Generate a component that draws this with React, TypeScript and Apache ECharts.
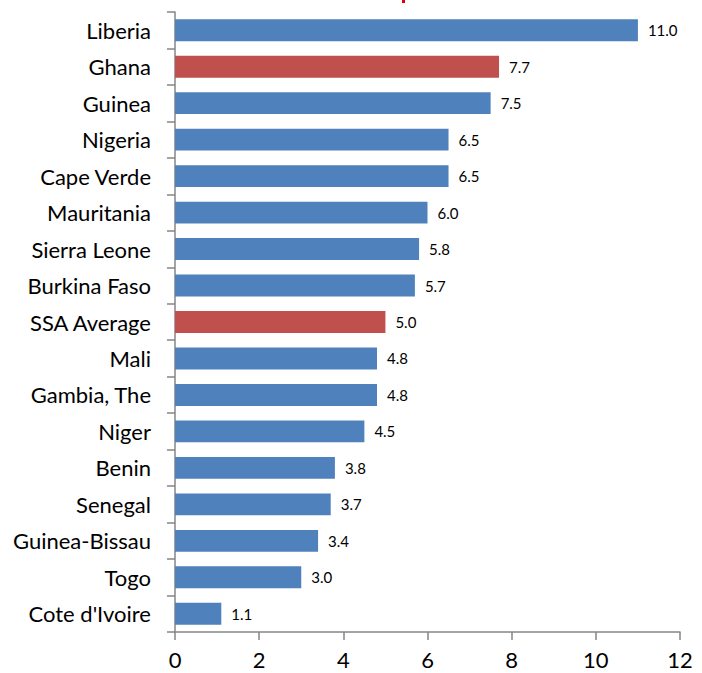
import React, { useEffect, useRef } from "react";
import * as echarts from "echarts";

const categories = [
  "Liberia", "Ghana", "Guinea", "Nigeria", "Cape Verde", "Mauritania", "Sierra Leone",
  "Burkina Faso", "SSA Average", "Mali", "Gambia, The", "Niger", "Benin", "Senegal",
  "Guinea-Bissau", "Togo", "Cote d'Ivoire",
];
const values = [11.0, 7.7, 7.5, 6.5, 6.5, 6.0, 5.8, 5.7, 5.0, 4.8, 4.8, 4.5, 3.8, 3.7, 3.4, 3.0, 1.1];
const highlighted = ["Ghana", "SSA Average"];
const xTicks = [0, 2, 4, 6, 8, 10, 12];

const BLUE = "#4F81BD";
const RED = "#C0504D";
const AXIS = "#868686";
const FONT = "Lato, 'Open Sans', sans-serif";

export default function App() {
  const ref = useRef<HTMLDivElement>(null);
  useEffect(() => {
    if (!ref.current) return;
    const chart = echarts.init(ref.current, null, { renderer: "svg" });
    chart.setOption({
      animation: false,
      backgroundColor: "#ffffff",
      grid: { left: 175, right: 22, top: 12, bottom: 41, containLabel: false },
      xAxis: {
        type: "value",
        min: xTicks[0],
        max: xTicks[xTicks.length - 1],
        interval: 2,
        axisLine: { show: true, lineStyle: { color: AXIS, width: 1.5 } },
        axisTick: { show: true, length: 8, lineStyle: { color: AXIS, width: 1.5 } },
        splitLine: { show: false },
        axisLabel: { color: "#000", fontSize: 22, lineHeight: 22, fontFamily: FONT, margin: 16 },
      },
      yAxis: {
        type: "category",
        data: categories,
        inverse: true,
        axisLine: { show: true, lineStyle: { color: AXIS, width: 1.5 } },
        axisTick: { show: true, length: 8, lineStyle: { color: AXIS, width: 1.5 } },
        axisLabel: { color: "#000", fontSize: 22, fontFamily: FONT, margin: 24 },
      },
      series: [
        {
          type: "bar",
          barCategoryGap: "40%",
          data: values.map((v, i) => ({
            value: v,
            itemStyle: { color: highlighted.includes(categories[i]) ? RED : BLUE },
          })),
          label: {
            show: true,
            position: "right",
            distance: 10,
            color: "#000",
            fontSize: 15,
            fontFamily: FONT,
            formatter: (p: any) => Number(p.value).toFixed(1),
          },
        },
      ],
      graphic: [
        { type: "rect", shape: { x: 402, y: 0, width: 3, height: 3 }, style: { fill: "#E00000" } },
      ],
    });
    return () => chart.dispose();
  }, []);
  return (
    <div
      ref={ref}
      style={{ position: "absolute", left: 0, top: 0, width: 702, height: 673 }}
    />
  );
}
